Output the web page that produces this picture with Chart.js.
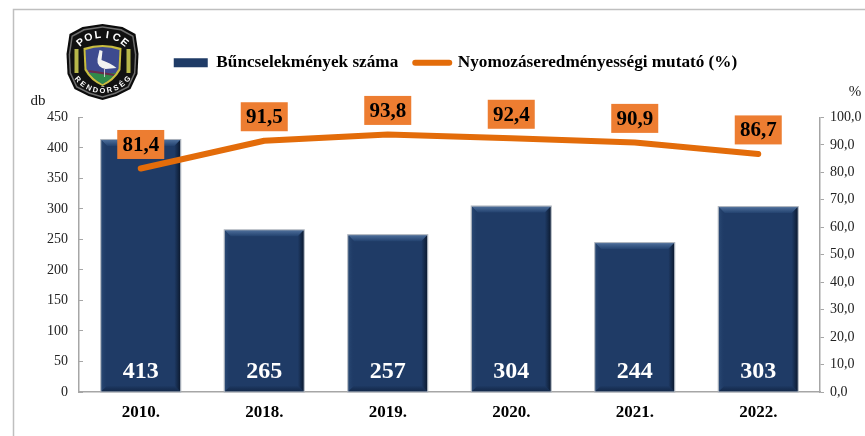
<!DOCTYPE html>
<html><head><meta charset="utf-8">
<style>html,body{margin:0;padding:0;background:#fff}canvas{display:block}</style>
<script src="https://cdn.jsdelivr.net/npm/chart.js@4"></script>
</head><body>
<canvas id="c" width="865" height="436"></canvas>
<script>
const categories = ['2010.', '2018.', '2019.', '2020.', '2021.', '2022.'];
const crimeCounts = [413, 265, 257, 304, 244, 303];
const clearanceRates = [81.4, 91.5, 93.8, 92.4, 90.9, 86.7];
const barLabel = 'Bűncselekmények száma';
const lineLabel = 'Nyomozáseredményességi mutató (%)';
const leftUnit = 'db';
const rightUnit = '%';
const serif = '"Liberation Serif", serif';
const hu = v => v.toFixed(1).replace('.', ',');

function arcText(ctx, text, cx, cy, r, mid, step, inward) {
  text = [...text];
  text.forEach((ch, i) => {
    const a = mid + (i - (text.length - 1) / 2) * step * (inward ? -1 : 1);
    ctx.save();
    ctx.translate(cx + r * Math.cos(a), cy + r * Math.sin(a));
    ctx.rotate(inward ? a - Math.PI / 2 : a + Math.PI / 2);
    ctx.fillText(ch, 0, 0);
    ctx.restore();
  });
}
function drawLogo(ctx) {
  const cx = 102.5, cy = 62;
  ctx.save();
  const shield = (s, col) => {
    ctx.beginPath();
    const p = [[-33,-28],[-20,-35],[0,-38],[20,-35],[33,-28],[36,-8],[35,12],[28,27],[14,34],[0,38],[-14,34],[-28,27],[-35,12],[-36,-8]];
    p.forEach(([x,y],i) => { const X = cx + x*s, Y = cy + y*s; i ? ctx.lineTo(X,Y) : ctx.moveTo(X,Y); });
    ctx.closePath(); ctx.fillStyle = col; ctx.fill();
  };
  shield(1, '#0b0b0b');
  shield(.94, '#6f6f6f');
  shield(.9, '#111');
  ctx.beginPath();
  ctx.moveTo(cx-19,cy-14); ctx.quadraticCurveTo(cx,cy-20,cx+19,cy-14);
  ctx.lineTo(cx+18,cy+8); ctx.quadraticCurveTo(cx+12,cy+19,cx,cy+24);
  ctx.quadraticCurveTo(cx-12,cy+19,cx-18,cy+8); ctx.closePath();
  ctx.fillStyle = '#c9bd3f'; ctx.fill();
  ctx.beginPath();
  ctx.moveTo(cx-17,cy-12); ctx.quadraticCurveTo(cx,cy-18,cx+17,cy-12);
  ctx.lineTo(cx+16,cy+7); ctx.quadraticCurveTo(cx+10,cy+17,cx,cy+22);
  ctx.quadraticCurveTo(cx-10,cy+17,cx-16,cy+7); ctx.closePath();
  ctx.fillStyle = '#3d4a8f'; ctx.fill();
  ctx.save(); ctx.clip();
  ctx.fillStyle = '#2f8a4a'; ctx.fillRect(cx-18,cy+11,36,14);
  ctx.strokeStyle = '#6b2b4a'; ctx.lineWidth = 2;
  ctx.beginPath(); ctx.moveTo(cx-14,cy+9); ctx.lineTo(cx+12,cy+13); ctx.stroke();
  ctx.restore();
  ctx.fillStyle = '#f2f2f2';
  ctx.beginPath();
  ctx.moveTo(cx-3,cy-12); ctx.lineTo(cx,cy-11); ctx.lineTo(cx-1,cy-2);
  ctx.quadraticCurveTo(cx+8,cy+1,cx+14,cy+6); ctx.lineTo(cx+3,cy+7);
  ctx.quadraticCurveTo(cx-6,cy+5,cx-5,cy-3); ctx.closePath(); ctx.fill();
  ctx.strokeStyle = '#c8c8d0'; ctx.lineWidth = 1;
  ctx.beginPath(); ctx.moveTo(cx+2,cy+7); ctx.lineTo(cx+2,cy+15); ctx.stroke();
  ctx.fillStyle = '#b8b84a';
  ctx.fillRect(cx-28,cy-13,4,24);
  ctx.fillRect(cx+24,cy-13,4,24);
  ctx.fillStyle = '#fff'; ctx.textAlign = 'center'; ctx.textBaseline = 'middle';
  ctx.font = 'bold 10.5px "Liberation Sans", sans-serif';
  arcText(ctx, 'POLICE', cx, cy+8, 35, -Math.PI/2, .27, false);
  ctx.font = 'bold 7.5px "Liberation Sans", sans-serif';
  arcText(ctx, 'RENDŐRSÉG', cx, cy-4, 33, Math.PI/2, .215, true);
  ctx.restore();
}

const decor = {
  id: 'decor',
  afterLayout(chart) {
    const l = chart.legend, shift = 23, up = 36;
    l.left += shift; l.right += shift; l.top -= up; l.bottom -= up;
    if (l.legendHitBoxes) l.legendHitBoxes.forEach(b => { b.left += shift; b.top -= up; });
  },
  beforeDraw(chart) {
    const ctx = chart.ctx;
    ctx.save();
    ctx.strokeStyle = '#bfbfbf'; ctx.lineWidth = 1.5;
    ctx.beginPath(); ctx.moveTo(13.5, chart.height); ctx.lineTo(13.5, 9.5); ctx.lineTo(chart.width, 9.5); ctx.stroke();
    ctx.restore();
    drawLogo(ctx);
  },
  afterDatasetDraw(chart, args) {
    if (args.meta.type !== 'bar') return;
    const ctx = chart.ctx;
    args.meta.data.forEach(b => {
      const L = b.x - b.width / 2, R = b.x + b.width / 2, T = b.y, B = b.base, d = 6;
      ctx.save();
      let g = ctx.createLinearGradient(0, T, 0, T + d);
      g.addColorStop(0, '#4d6e9a'); g.addColorStop(1, '#23426f');
      ctx.fillStyle = g;
      ctx.beginPath(); ctx.moveTo(L, T); ctx.lineTo(R, T); ctx.lineTo(R - d, T + d); ctx.lineTo(L + d, T + d); ctx.closePath(); ctx.fill();
      g = ctx.createLinearGradient(R - d, 0, R, 0);
      g.addColorStop(0, 'rgba(12,28,52,0)'); g.addColorStop(1, '#0c1a30');
      ctx.fillStyle = g;
      ctx.beginPath(); ctx.moveTo(R, T); ctx.lineTo(R, B); ctx.lineTo(R - d, B - d); ctx.lineTo(R - d, T + d); ctx.closePath(); ctx.fill();
      g = ctx.createLinearGradient(L, 0, L + d, 0);
      g.addColorStop(0, '#2b4a75'); g.addColorStop(1, 'rgba(31,59,102,0)');
      ctx.fillStyle = g;
      ctx.beginPath(); ctx.moveTo(L, T); ctx.lineTo(L, B); ctx.lineTo(L + d, B - d); ctx.lineTo(L + d, T + d); ctx.closePath(); ctx.fill();
      g = ctx.createLinearGradient(0, B - d, 0, B);
      g.addColorStop(0, 'rgba(16,36,66,0)'); g.addColorStop(1, '#14294a');
      ctx.fillStyle = g;
      ctx.beginPath(); ctx.moveTo(L, B); ctx.lineTo(R, B); ctx.lineTo(R - d, B - d); ctx.lineTo(L + d, B - d); ctx.closePath(); ctx.fill();
      ctx.strokeStyle = '#a9b0ba'; ctx.lineWidth = 1;
      ctx.strokeRect(L - .5, T - .5, b.width + 1, B - T + 1);
      ctx.restore();
    });
  },
  afterDraw(chart) {
    const ctx = chart.ctx;
    ctx.save();
    ctx.textAlign = 'center'; ctx.textBaseline = 'middle';
    chart.getDatasetMeta(1).data.forEach((b, i) => {
      ctx.font = 'bold 24px ' + serif; ctx.fillStyle = '#fff';
      ctx.fillText(String(crimeCounts[i]), b.x, b.base - 20);
    });
    chart.getDatasetMeta(0).data.forEach((p, i) => {
      const w = 47, h = 29, yc = p.y - 24;
      ctx.fillStyle = '#ed7d31';
      ctx.fillRect(p.x - w / 2, yc - h / 2, w, h);
      ctx.font = 'bold 21px ' + serif; ctx.fillStyle = '#000';
      ctx.fillText(hu(clearanceRates[i]), p.x, yc + 1);
    });
    ctx.font = '15px ' + serif; ctx.fillStyle = '#1a1a1a';
    ctx.fillText(leftUnit, chart.scales.y.right - 41, chart.chartArea.top - 16);
    ctx.fillText(rightUnit, chart.scales.y1.left + 35, chart.chartArea.top - 25);
    ctx.restore();
  }
};

new Chart(document.getElementById('c'), {
  type: 'bar',
  data: {
    labels: categories,
    datasets: [
      { type: 'line', label: lineLabel, data: clearanceRates, yAxisID: 'y1', order: 0,
        borderColor: '#e36c0a', backgroundColor: '#e36c0a', borderWidth: 6, borderCapStyle: 'round',
        borderJoinStyle: 'round', pointRadius: 0, tension: 0 },
      { label: barLabel, data: crimeCounts, yAxisID: 'y', order: 1,
        backgroundColor: '#1f3b66', barPercentage: .64, categoryPercentage: 1 }
    ]
  },
  options: {
    responsive: false, animation: false, devicePixelRatio: 1,
    layout: { padding: 0 },
    plugins: {
      tooltip: { enabled: false },
      legend: {
        display: true, position: 'top',
        title: { display: true, text: ' ', font: { size: 1 }, padding: { top: 0, bottom: 72 } },
        labels: {
          padding: 17, color: '#000', font: { family: serif, weight: 'bold', size: 17.2 },
          boxHeight: 9, usePointStyle: true, pointStyleWidth: 34,
          generateLabels: () => [
            { text: barLabel, fontColor: '#000', fillStyle: '#1f3b66', strokeStyle: '#1f3b66', lineWidth: 0, pointStyle: 'rect', datasetIndex: 1 },
            { text: lineLabel, fontColor: '#000', fillStyle: '#e36c0a', strokeStyle: '#e36c0a', lineWidth: 6, lineCap: 'round', pointStyle: 'line', datasetIndex: 0 }
          ]
        }
      }
    },
    scales: {
      x: {
        grid: { display: false, drawTicks: false }, border: { color: '#a6a6a6', width: 1.5 },
        ticks: { color: '#000', padding: 10, font: { family: serif, weight: 'bold', size: 17 } },
        afterFit: s => { s.height = 44; }
      },
      y: {
        position: 'left', min: 0, max: 450,
        grid: { drawOnChartArea: false, tickLength: -4, color: '#a6a6a6' }, border: { color: '#a6a6a6', width: 1.5 },
        ticks: { stepSize: 50, color: '#222', padding: 15, font: { family: serif, size: 14 } },
        afterFit: s => { s.width = 79; }
      },
      y1: {
        position: 'right', min: 0, max: 100,
        grid: { drawOnChartArea: false, tickLength: 4, color: '#a6a6a6' }, border: { color: '#a6a6a6', width: 1.5 },
        ticks: { stepSize: 10, color: '#222', padding: 6, font: { family: serif, size: 14 }, callback: v => hu(v) },
        afterFit: s => { s.width = 45; }
      }
    }
  },
  plugins: [decor]
});
</script>
</body></html>
